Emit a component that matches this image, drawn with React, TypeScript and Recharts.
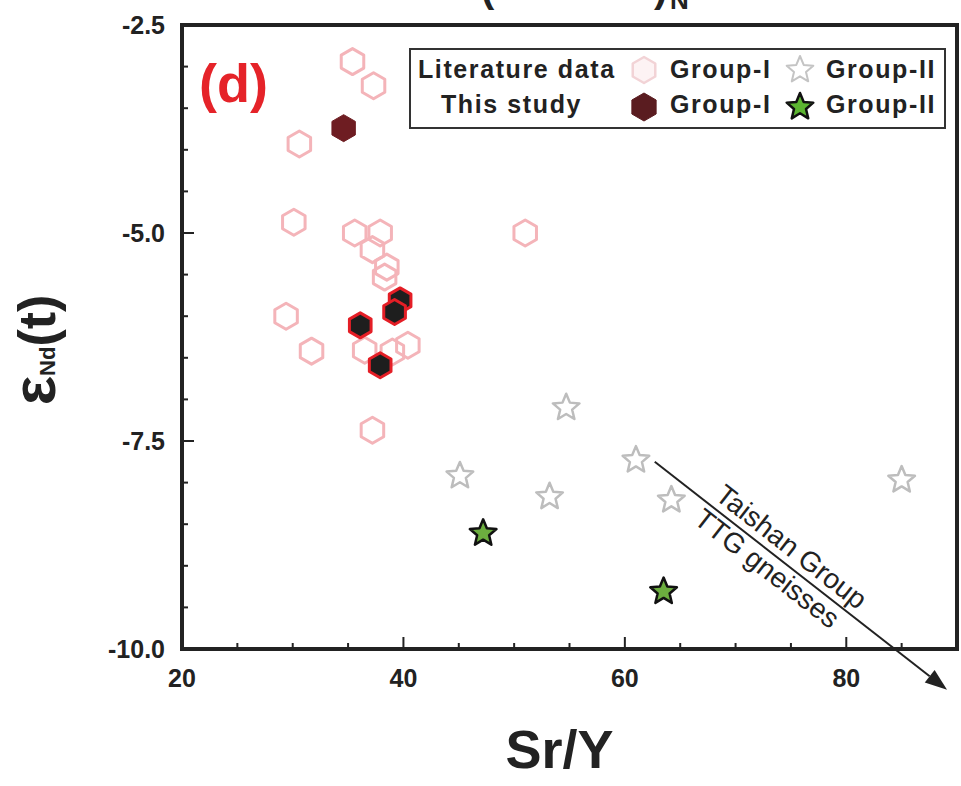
import React from "react";
import { ScatterChart, Scatter, XAxis, YAxis, ReferenceLine, Label } from "recharts";

// ---------------------------------------------------
// DATA  (Sr/Y, eNd(t))
// ---------------------------------------------------
const litGroupI: [number, number][] = [
  [35.4, -2.94], [37.3, -3.23], [30.6, -3.93], [30.1, -4.87],
  [35.6, -5.0], [37.9, -5.0], [37.2, -5.2], [38.5, -5.41], [38.3, -5.53],
  [29.4, -6.0], [31.7, -6.42], [36.5, -6.41], [40.4, -6.35], [39.0, -6.43],
  [37.2, -7.37], [51.0, -5.0],
];
const studyGroupIDark: [number, number][] = [[34.6, -3.74]];
const studyGroupI: [number, number][] = [
  [39.7, -5.81], [39.2, -5.95], [36.1, -6.11], [37.9, -6.59],
];
const litGroupII: [number, number][] = [
  [54.7, -7.1], [61.0, -7.73], [45.1, -7.92], [53.2, -8.17], [64.2, -8.21], [85.0, -7.97],
];
const studyGroupII: [number, number][] = [[47.2, -8.61], [63.5, -9.31]];

const xTicks = [20, 25, 30, 35, 40, 45, 50, 55, 60, 65, 70, 75, 80, 85, 90];
const xLabels = [20, 40, 60, 80];
const yTicks = [-10, -9.5, -9, -8.5, -8, -7.5, -7, -6.5, -6, -5.5, -5, -4.5, -4, -3.5, -3, -2.5];
const yLabels = [-10, -7.5, -5, -2.5];

const trendArrow = [
  { x: 62.7, y: -7.75 },
  { x: 89.1, y: -10.49 },
];

const toPts = (a: [number, number][]) => a.map(([x, y]) => ({ x, y }));

const FONT = "'Liberation Sans', Arial, sans-serif";
const INK = "#222";

// ---------------------------------------------------
// SHAPES
// ---------------------------------------------------
function Hexagon({ cx, cy, r, fill, stroke, strokeWidth }: any) {
  const pts = [-90, -30, 30, 90, 150, 210]
    .map((a) => {
      const t = (a * Math.PI) / 180;
      return `${cx + r * Math.cos(t)},${cy + r * Math.sin(t)}`;
    })
    .join(" ");
  return <polygon points={pts} fill={fill} stroke={stroke} strokeWidth={strokeWidth} strokeLinejoin="round" />;
}

function Star({ cx, cy, r, fill, stroke, strokeWidth }: any) {
  const pts: string[] = [];
  for (let i = 0; i < 10; i++) {
    const rr = i % 2 === 0 ? r : r * 0.45;
    const t = ((-90 + i * 36) * Math.PI) / 180;
    pts.push(`${cx + rr * Math.cos(t)},${cy + rr * Math.sin(t)}`);
  }
  return <polygon points={pts.join(" ")} fill={fill} stroke={stroke} strokeWidth={strokeWidth} strokeLinejoin="round" />;
}

const litHex = (p: any) => <Hexagon cx={p.cx} cy={p.cy} r={13} fill="none" stroke="#f4b4b9" strokeWidth={3} />;
const darkHex = (p: any) => <Hexagon cx={p.cx} cy={p.cy} r={13.5} fill="#6e1d22" stroke="#6e1d22" strokeWidth={1} />;
const blackHex = (p: any) => <Hexagon cx={p.cx} cy={p.cy} r={12.5} fill="#1e1e1e" stroke="#e41e26" strokeWidth={3} />;
const greyStar = (p: any) => <Star cx={p.cx} cy={p.cy} r={14} fill="#fff" stroke="#bdbdbd" strokeWidth={2.5} />;
const greenStar = (p: any) => <Star cx={p.cx} cy={p.cy} r={14} fill="#6cae3f" stroke="#111" strokeWidth={2.5} />;

// ---------------------------------------------------
// TICKS (pointing inward)
// ---------------------------------------------------
function BottomTick({ x, y, payload }: any) {
  const major = xLabels.includes(payload.value);
  return (
    <g>
      <line x1={x} y1={y} x2={x} y2={y - (major ? 12 : 6)} stroke={INK} strokeWidth={2} />
      {major && (
        <text x={x} y={y + 38} textAnchor="middle" fontFamily={FONT} fontWeight="bold" fontSize={25} fill={INK}>
          {payload.value}
        </text>
      )}
    </g>
  );
}

function TopTick({ x, y, payload }: any) {
  const major = xLabels.includes(payload.value);
  return <line x1={x} y1={y} x2={x} y2={y + (major ? 12 : 6)} stroke={INK} strokeWidth={2} />;
}

function LeftTick({ x, y, payload }: any) {
  const major = yLabels.includes(payload.value);
  return (
    <g>
      <line x1={x} y1={y} x2={x + (major ? 12 : 6)} y2={y} stroke={INK} strokeWidth={2} />
      {major && (
        <text x={x - 17} y={y + 9} textAnchor="end" fontFamily={FONT} fontWeight="bold" fontSize={25} fill={INK}>
          {payload.value.toFixed(1)}
        </text>
      )}
    </g>
  );
}

function RightTick({ x, y, payload }: any) {
  const major = yLabels.includes(payload.value);
  return <line x1={x} y1={y} x2={x - (major ? 12 : 6)} y2={y} stroke={INK} strokeWidth={2} />;
}

// ---------------------------------------------------
// ARROW + TEXT
// ---------------------------------------------------
function TrendArrow({ x1, y1, x2, y2 }: any) {
  const dx = x2 - x1;
  const dy = y2 - y1;
  const len = Math.sqrt(dx * dx + dy * dy);
  const ux = dx / len;
  const uy = dy / len;
  const nx = uy;
  const ny = -ux;
  const ang = (Math.atan2(dy, dx) * 180) / Math.PI;
  const head = 22;
  const hw = 8;
  const bx = x2 - ux * head;
  const by = y2 - uy * head;
  const at = (t: number, d: number) => [x1 + ux * t + nx * d, y1 + uy * t + ny * d];
  const [ax, ay] = at(len * 0.432, 17);
  const [bx2, by2] = at(len * 0.416, -15);
  return (
    <g>
      <line x1={x1} y1={y1} x2={bx} y2={by} stroke={INK} strokeWidth={2} />
      <polygon
        points={`${x2},${y2} ${bx + nx * hw},${by + ny * hw} ${bx - nx * hw},${by - ny * hw}`}
        fill={INK}
      />
      <text
        x={ax}
        y={ay}
        transform={`rotate(${ang}, ${ax}, ${ay})`}
        textAnchor="middle"
        dominantBaseline="central"
        fontFamily={FONT}
        fontSize={28}
        fill={INK}
      >
        Taishan Group
      </text>
      <text
        x={bx2}
        y={by2}
        transform={`rotate(${ang}, ${bx2}, ${by2})`}
        textAnchor="middle"
        dominantBaseline="central"
        fontFamily={FONT}
        fontSize={28}
        fill={INK}
      >
        TTG gneisses
      </text>
    </g>
  );
}

// ---------------------------------------------------
// LEGEND
// ---------------------------------------------------
function LegendBox() {
  const txt = { fontFamily: FONT, fontWeight: "bold" as const, fontSize: 25, letterSpacing: 1.6, fill: INK };
  return (
    <svg width={537} height={81} style={{ position: "absolute", left: 409, top: 48 }}>
      <rect x={1} y={1} width={535} height={79} fill="#fff" stroke="#333" strokeWidth={2} />
      <text x={9} y={30} {...txt}>Literature data</text>
      <text x={32} y={65} {...txt}>This study</text>
      <Hexagon cx={235} cy={22} r={13} fill="#fdf3f4" stroke="#f2d3d6" strokeWidth={2.5} />
      <Hexagon cx={235} cy={59} r={14} fill="#5a1c20" stroke="#5a1c20" strokeWidth={1} />
      <text x={261} y={30} {...txt}>Group-I</text>
      <text x={261} y={65} {...txt}>Group-I</text>
      <Star cx={391} cy={22} r={14} fill="#fff" stroke="#c4c4c4" strokeWidth={2} />
      <Star cx={391} cy={59} r={14} fill="#5cb531" stroke="#111" strokeWidth={2.5} />
      <text x={417} y={30} {...txt}>Group-II</text>
      <text x={417} y={65} {...txt}>Group-II</text>
    </svg>
  );
}

// ---------------------------------------------------
// MAIN COMPONENT
// ---------------------------------------------------
export default function App() {
  const axisLine = { stroke: INK, strokeWidth: 4, strokeLinecap: "square" as const };

  return (
    <div style={{ position: "absolute", left: 0, top: 0, width: 961, height: 786, background: "#fff", overflow: "hidden" }}>
      <ScatterChart width={961} height={786} margin={{ top: 20, right: 0, bottom: 87, left: 62 }}>
        <XAxis
          type="number"
          dataKey="x"
          domain={[20, 90]}
          ticks={xTicks}
          interval={0}
          allowDataOverflow
          height={50}
          tickSize={0}
          tickMargin={0}
          tickLine={false}
          axisLine={axisLine}
          tick={(p: any) => <BottomTick {...p} />}
          label={
            <Label
              content={({ viewBox }: any) => (
                <text
                  x={viewBox.x + viewBox.width / 2 - 10}
                  y={viewBox.y + 119}
                  textAnchor="middle"
                  fontFamily={FONT}
                  fontWeight="bold"
                  fontSize={54}
                  fill={INK}
                >
                  Sr/Y
                </text>
              )}
            />
          }
        />
        <XAxis
          xAxisId="top"
          orientation="top"
          type="number"
          domain={[20, 90]}
          ticks={xTicks}
          interval={0}
          height={5}
          tickSize={0}
          tickMargin={0}
          tickLine={false}
          axisLine={axisLine}
          tick={(p: any) => <TopTick {...p} />}
        />
        <YAxis
          type="number"
          dataKey="y"
          domain={[-10, -2.5]}
          ticks={yTicks}
          interval={0}
          allowDataOverflow
          width={120}
          tickSize={0}
          tickMargin={0}
          tickLine={false}
          axisLine={axisLine}
          tick={(p: any) => <LeftTick {...p} />}
          label={
            <Label
              content={() => (
                <text
                  x={55}
                  y={350}
                  transform="rotate(-90, 55, 350)"
                  textAnchor="middle"
                  fontFamily={FONT}
                  fontWeight="bold"
                  fill={INK}
                >
                  <tspan fontSize={62}>ε</tspan>
                  <tspan fontSize={22}>Nd</tspan>
                  <tspan fontSize={52}>(t)</tspan>
                </text>
              )}
            />
          }
        />
        <YAxis
          yAxisId="right"
          orientation="right"
          type="number"
          domain={[-10, -2.5]}
          ticks={yTicks}
          interval={0}
          width={4}
          tickSize={0}
          tickMargin={0}
          tickLine={false}
          axisLine={axisLine}
          tick={(p: any) => <RightTick {...p} />}
        />

        <Scatter data={toPts(litGroupI)} shape={litHex} isAnimationActive={false} />
        <Scatter data={toPts(litGroupII)} shape={greyStar} isAnimationActive={false} />
        <Scatter data={toPts(studyGroupIDark)} shape={darkHex} isAnimationActive={false} />
        <Scatter data={toPts(studyGroupI)} shape={blackHex} isAnimationActive={false} />
        <Scatter data={toPts(studyGroupII)} shape={greenStar} isAnimationActive={false} />

        <ReferenceLine segment={trendArrow} ifOverflow="visible" shape={(p: any) => <TrendArrow {...p} />} />
      </ScatterChart>

      {/* panel tag + clipped title from the panel above */}
      <svg width={961} height={786} style={{ position: "absolute", left: 0, top: 0, pointerEvents: "none" }}>
        <text x={199} y={102} fontFamily={FONT} fontWeight="bold" fontSize={54} fill="#e52329">
          (d)
        </text>
        <text x={481} y={2} fontFamily={FONT} fontWeight="bold" fontSize={40} fill={INK}>(</text>
        <text x={654} y={2} fontFamily={FONT} fontWeight="bold" fontSize={40} fill={INK}>)</text>
        <text x={670} y={9} fontFamily={FONT} fontWeight="bold" fontSize={26} fill={INK}>N</text>
      </svg>

      <LegendBox />
    </div>
  );
}
